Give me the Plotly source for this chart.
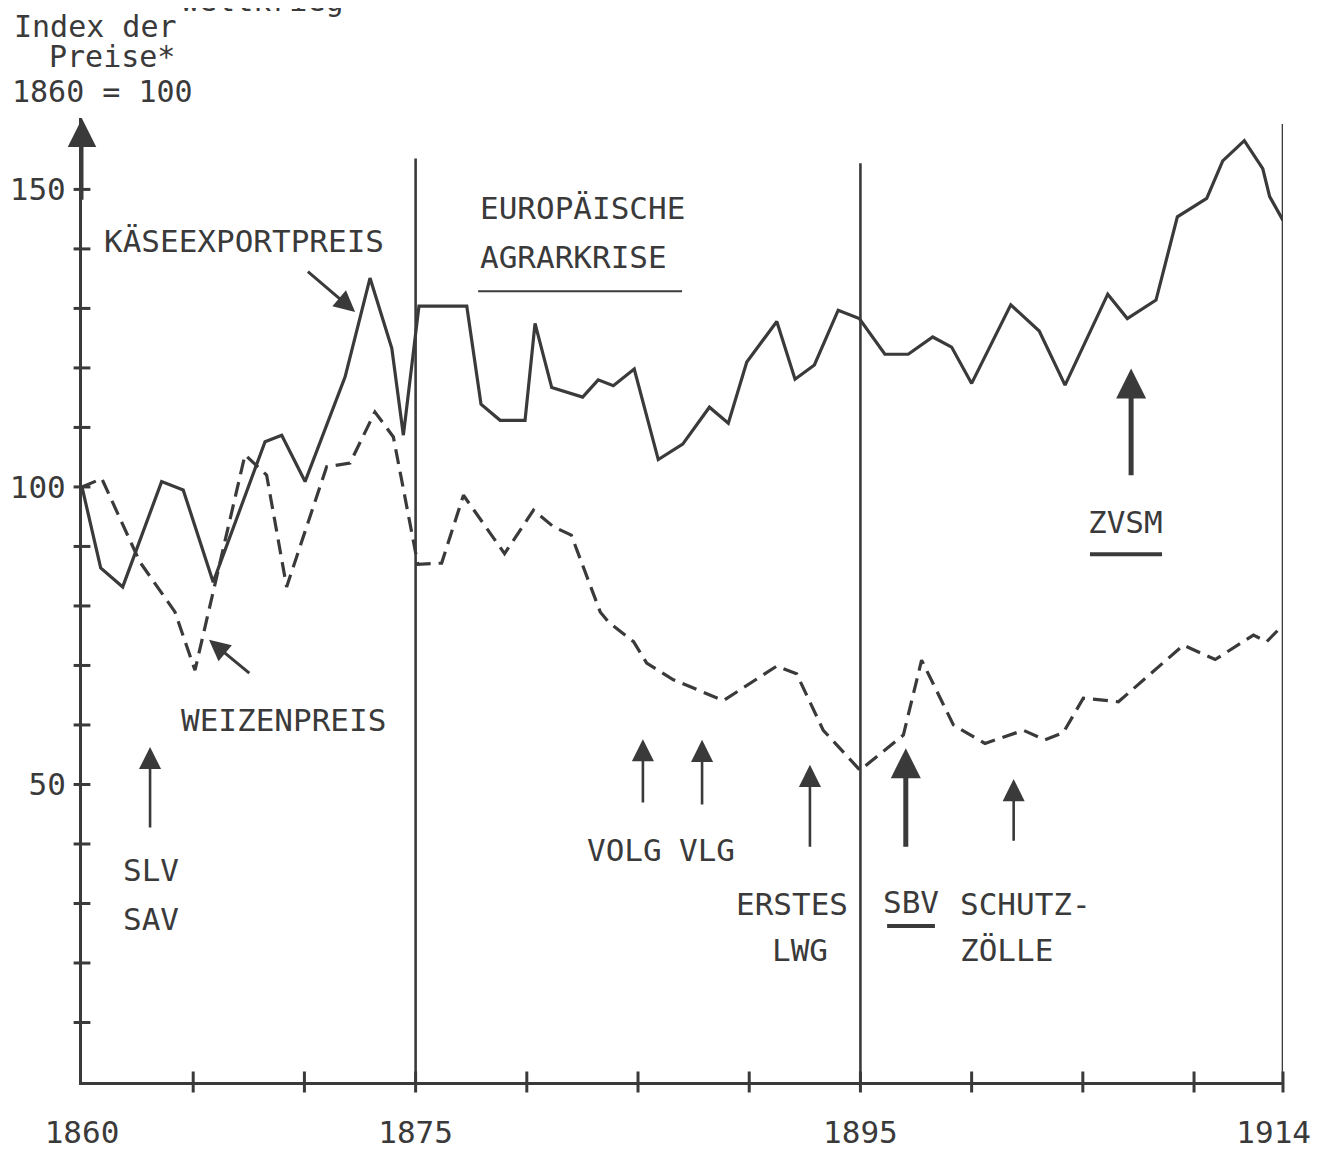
import plotly.graph_objects as go

# ---------------- data ----------------
kaese_jahr = [1860.0, 1860.84, 1861.83, 1863.58, 1864.55, 1865.9, 1868.23, 1868.98, 1870.03,
              1871.83, 1872.95, 1873.93, 1874.45, 1875.15, 1877.3, 1877.94, 1878.8, 1879.92,
              1880.37, 1881.12, 1882.51, 1883.21, 1883.89, 1884.83, 1885.91, 1887.01, 1888.21,
              1889.06, 1889.89, 1891.24, 1892.06, 1892.93, 1894.0, 1894.95, 1896.1, 1897.15,
              1898.25, 1899.1, 1900.0, 1901.76, 1903.04, 1904.2, 1906.12, 1907.0, 1908.29,
              1909.25, 1910.57, 1911.29, 1912.26, 1913.09, 1913.4, 1914.0]
kaese_index = [100.0, 86.4, 83.2, 100.9, 99.5, 84.0, 107.6, 108.7, 100.9,
               118.5, 135.1, 123.3, 108.7, 130.4, 130.4, 113.9, 111.2, 111.2,
               127.5, 116.7, 115.1, 118.0, 117.0, 119.8, 104.6, 107.2, 113.4,
               110.7, 121.0, 127.8, 118.1, 120.5, 129.7, 128.3, 122.3, 122.3,
               125.2, 123.5, 117.4, 130.6, 126.2, 117.1, 132.4, 128.3, 131.4,
               145.4, 148.5, 154.8, 158.2, 153.5, 148.8, 144.8]

weizen_jahr = [1860.0, 1860.89, 1862.6, 1864.18, 1865.08, 1867.33, 1868.3, 1869.2, 1871.0,
               1872.05, 1873.17, 1874.0, 1875.1, 1876.17, 1877.15, 1879.0, 1880.3, 1881.2,
               1882.0, 1883.3, 1883.67, 1884.8, 1885.39, 1886.59, 1888.84, 1891.24, 1892.13,
               1893.33, 1894.98, 1896.93, 1897.75, 1899.18, 1900.6, 1902.33, 1903.3, 1904.12,
               1905.02, 1906.6, 1909.52, 1910.95, 1912.67, 1913.27, 1914.0]
weizen_index = [100.0, 101.4, 87.4, 79.0, 69.2, 105.4, 102.0, 83.2, 103.4,
                104.0, 112.6, 108.4, 87.0, 87.2, 98.6, 88.8, 96.1, 93.3,
                91.9, 79.0, 77.3, 74.0, 70.4, 67.6, 64.1, 69.9, 68.6,
                59.1, 52.4, 58.3, 70.9, 60.0, 56.9, 59.1, 57.5, 58.7,
                64.5, 63.9, 73.4, 71.0, 75.1, 74.0, 76.8]

x_ticks = [1860, 1865, 1870, 1875, 1880, 1885, 1890, 1895, 1900, 1905, 1910, 1914]
x_labels = ["1860", "", "", "1875", "", "", "", "1895", "", "", "", "1914\u00a0"]
y_ticks = [10, 20, 30, 40, 50, 60, 70, 80, 90, 100, 110, 120, 130, 140, 150]
y_labels = ["", "", "", "", "50", "", "", "", "", "100", "", "", "", "", "150"]

# period boundaries (vertical lines) and their top values
perioden = [1875, 1895, 1914]
perioden_top = [155.2, 154.4, 161.0]

# events: (x year, arrow tip, arrow base, thick?)
ereignis_x = [1863.06, 1885.22, 1887.88, 1892.73, 1897.04, 1901.89, 1907.17]
ereignis_tip = [56.3, 57.6, 57.5, 53.3, 56.1, 50.9, 119.9]
ereignis_base = [42.5, 46.7, 46.4, 39.3, 39.3, 40.3, 101.7]
ereignis_dick = [False, False, False, False, True, False, True]

INK = "#3a3a3a"
FONT = "DejaVu Sans Mono, Liberation Mono, monospace"
FS = 31

fig = go.Figure()
fig.add_trace(go.Scatter(x=kaese_jahr, y=kaese_index, mode="lines",
                         line=dict(color=INK, width=3.2), name="Käseexportpreis",
                         showlegend=False, hoverinfo="skip"))
fig.add_trace(go.Scatter(x=weizen_jahr, y=weizen_index, mode="lines",
                         line=dict(color=INK, width=3.2, dash="15px,8px"), name="Weizenpreis",
                         showlegend=False, hoverinfo="skip"))

# tick marks crossing the axes (hand-drawn style), built from the tick arrays
fig.add_trace(go.Scatter(x=[x_ticks[0]] * len(y_ticks), y=y_ticks, mode="markers",
                         marker=dict(symbol="line-ew", size=12,
                                     line=dict(color=INK, width=3)),
                         cliponaxis=False, showlegend=False, hoverinfo="skip"))
fig.add_trace(go.Scatter(x=x_ticks[1:], y=[0] * (len(x_ticks) - 1), mode="markers",
                         marker=dict(symbol="line-ns", size=15,
                                     line=dict(color=INK, width=3)),
                         cliponaxis=False, showlegend=False, hoverinfo="skip"))

for xv, top in zip(perioden, perioden_top):
    fig.add_shape(type="line", xref="x", yref="y", x0=xv, x1=xv, y0=0, y1=top,
                  line=dict(color=INK, width=2.6))

# event arrows
for xv, tip, base, dick in zip(ereignis_x, ereignis_tip, ereignis_base, ereignis_dick):
    fig.add_annotation(x=xv, y=tip, ax=xv, ay=base, axref="x", ayref="y", xref="x", yref="y",
                       text="", showarrow=True, arrowhead=2,
                       arrowwidth=5 if dick else 2.6,
                       arrowsize=1.2 if dick else 1.7, arrowcolor=INK)

# y axis arrow head
fig.add_annotation(x=1860, y=161.9, ax=1860, ay=148, axref="x", ayref="y", xref="x", yref="y",
                   text="", showarrow=True, arrowhead=2, arrowwidth=3, arrowsize=1.9,
                   arrowcolor=INK)

# series label arrows
fig.add_annotation(x=1872.28, y=129.4, ax=1870.09, ay=136.4, axref="x", ayref="y",
                   text="", showarrow=True, arrowhead=2, arrowwidth=3, arrowsize=1.4,
                   arrowcolor=INK)
fig.add_annotation(x=1865.71, y=74.3, ax=1867.59, ay=68.5, axref="x", ayref="y",
                   text="", showarrow=True, arrowhead=2, arrowwidth=3, arrowsize=1.4,
                   arrowcolor=INK)

def txt(x, y, s, anchor="center", size=FS, ref="data"):
    r = dict(xref="x", yref="y") if ref == "data" else dict(xref="paper", yref="paper")
    fig.add_annotation(x=x, y=y, text=s, showarrow=False,
                       xanchor=anchor, yanchor="middle",
                       font=dict(family=FONT, size=size, color=INK), **r)

txt(1867.28, 141.3, "KÄSEEXPORTPREIS")
txt(1877.81, 146.9, "EUROPÄISCHE", "left")
txt(1877.81, 138.6, "AGRARKRISE", "left")
txt(1869.04, 60.8, "WEIZENPREIS")
txt(1863.1, 35.6, "SLV")
txt(1863.1, 27.4, "SAV")
txt(1884.37, 39.0, "VOLG")
txt(1888.08, 39.0, "VLG")
txt(1891.92, 29.9, "ERSTES")
txt(1892.28, 22.2, "LWG")
txt(1897.27, 30.3, "SBV")
txt(1899.39, 29.9, "SCHUTZ-", "left")
txt(1899.39, 22.2, "ZÖLLE", "left")
txt(1906.9, 94.1, "ZVSM")
# y axis title (outside the plotting area -> paper coordinates)
txt(-0.0583, 1.0944, "Index der", "left", 30, "paper")
txt(-0.0291, 1.0633, "Preise*", "left", 30, "paper")
txt(-0.0600, 1.0270, "1860 = 100", "left", 30, "paper")
txt(0.1499, 1.1222, "weltkrieg", "center", 30, "paper")

# underlines
for x0, x1, yv, w in [(1877.81, 1886.98, 132.9, 2.0), (1896.2, 1898.35, 26.2, 4.0),
                      (1905.32, 1908.56, 88.7, 4.0)]:
    fig.add_shape(type="line", xref="x", yref="y", x0=x0, x1=x1, y0=yv, y1=yv,
                  line=dict(color=INK, width=w))

axis_common = dict(showgrid=False, zeroline=False, showline=True, linecolor=INK,
                   linewidth=3, automargin=False, ticks="",
                   ticklabeloverflow="allow",
                   tickfont=dict(family=FONT, size=31, color=INK))

# the page has an 8 px body margin, so the figure is 8 px smaller and margins shifted
fig.update_layout(
    width=1311, height=1141,
    margin=dict(l=74, r=36, t=110, b=67, autoexpand=False),
    paper_bgcolor="white", plot_bgcolor="white",
    showlegend=False,
    xaxis=dict(range=[1860, 1914], tickmode="array", tickvals=x_ticks, ticktext=x_labels,
               ticklabelstandoff=21, **axis_common),
    yaxis=dict(range=[0, 162], tickmode="array", tickvals=y_ticks, ticktext=y_labels,
               ticklabelstandoff=7, **axis_common),
)

fig.write_html("out.html")
